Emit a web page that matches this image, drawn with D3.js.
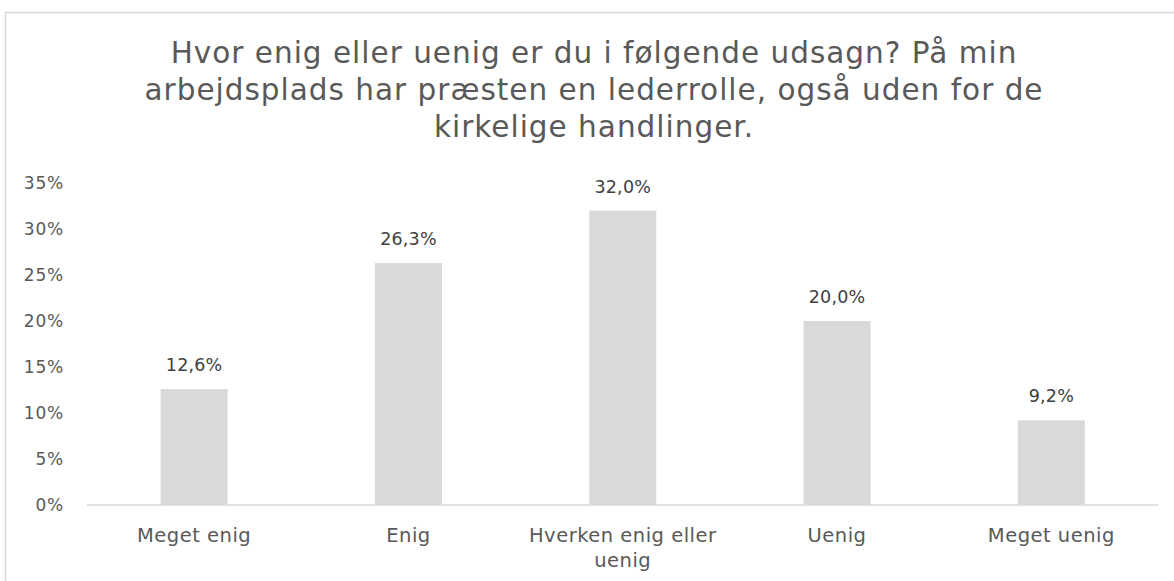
<!DOCTYPE html>
<html>
<head>
<meta charset="utf-8">
<script src="https://cdn.jsdelivr.net/npm/d3@7/dist/d3.min.js"></script>
<style>
  html, body { margin: 0; padding: 0; background: #fff; }
  svg { display: block; }
</style>
</head>
<body>
<div id="chart"></div>
<script>
  /* ── DATA ── */
  const categories = [
    ['Meget enig'],
    ['Enig'],
    ['Hverken enig eller', 'uenig'],
    ['Uenig'],
    ['Meget uenig'],
  ];
  const values = [12.6, 26.3, 32.0, 20.0, 9.2];
  const yTicks = [0, 5, 10, 15, 20, 25, 30, 35];
  const titleLines = [
    'Hvor enig eller uenig er du i følgende udsagn? På min',
    'arbejdsplads har præsten en lederrolle, også uden for de',
    'kirkelige handlinger.',
  ];

  /* ── CONSTANTS ── */
  const W = 1174, H = 581;
  const FONT = "'DejaVu Sans', Verdana, sans-serif";
  const MUTED = '#595959';
  const DARK = '#404040';
  const GRID = '#d9d9d9';
  const BAR = '#d9d9d9';
  const PLOT = { left: 87, right: 1158.5, top: 183, bottom: 505 };

  const svg = d3.select('#chart').append('svg').attr('width', W).attr('height', H);

  /* chart frame (only top & left edges visible in the crop) */
  svg.append('rect')
    .attr('x', 5.5).attr('y', 12.5).attr('width', 1180).attr('height', 600)
    .attr('fill', '#fff').attr('stroke', GRID).attr('stroke-width', 1.5);

  /* title */
  svg.append('text')
    .attr('text-anchor', 'middle')
    .style('font-family', FONT).style('font-size', '29.5px').style('letter-spacing', '1px')
    .attr('fill', MUTED)
    .selectAll('tspan').data(titleLines).join('tspan')
    .attr('x', 594).attr('y', (_, i) => 63 + i * 37)
    .text(d => d);

  const x = d3.scaleBand()
    .domain(d3.range(categories.length))
    .range([PLOT.left, PLOT.right])
    .paddingInner(0.687).paddingOuter(0.3435);

  const y = d3.scaleLinear().domain([0, 35]).range([PLOT.bottom, PLOT.top]);

  /* y axis labels */
  svg.append('g').attr('transform', 'translate(64,0)')
    .call(d3.axisLeft(y).tickValues(yTicks).tickSize(0).tickPadding(0).tickFormat(d => d + '%'))
    .call(ax => ax.select('.domain').remove())
    .call(ax => ax.selectAll('text').style('font-family', FONT)
                                     .style('font-size', '17px').style('letter-spacing', '0.8px')
                                     .attr('fill', MUTED));

  /* bars */
  svg.append('g').selectAll('rect').data(values).join('rect')
    .attr('x', (_, i) => x(i)).attr('width', x.bandwidth())
    .attr('y', d => y(d)).attr('height', d => y(0) - y(d))
    .attr('fill', BAR);

  /* baseline */
  svg.append('line')
    .attr('x1', PLOT.left).attr('x2', PLOT.right)
    .attr('y1', y(0)).attr('y2', y(0))
    .attr('stroke', GRID).attr('stroke-width', 1.5);

  /* data labels */
  svg.append('g').selectAll('text').data(values).join('text')
    .attr('x', (_, i) => x(i) + x.bandwidth() / 2)
    .attr('y', d => y(d) - 18)
    .attr('text-anchor', 'middle')
    .style('font-family', FONT).style('font-size', '17.5px').style('letter-spacing', '0.2px')
    .attr('fill', DARK)
    .text(d => d.toFixed(1).replace('.', ',') + '%');

  /* category labels */
  const cat = svg.append('g').selectAll('text').data(categories).join('text')
    .attr('text-anchor', 'middle')
    .style('font-family', FONT).style('font-size', '19.5px').style('letter-spacing', '0.5px')
    .attr('fill', MUTED);
  cat.selectAll('tspan').data((d, i) => d.map(t => ({ t, i }))).join('tspan')
    .attr('x', d => x(d.i) + x.bandwidth() / 2)
    .attr('y', (_, j) => 542 + j * 25)
    .text(d => d.t);
</script>
</body>
</html>
